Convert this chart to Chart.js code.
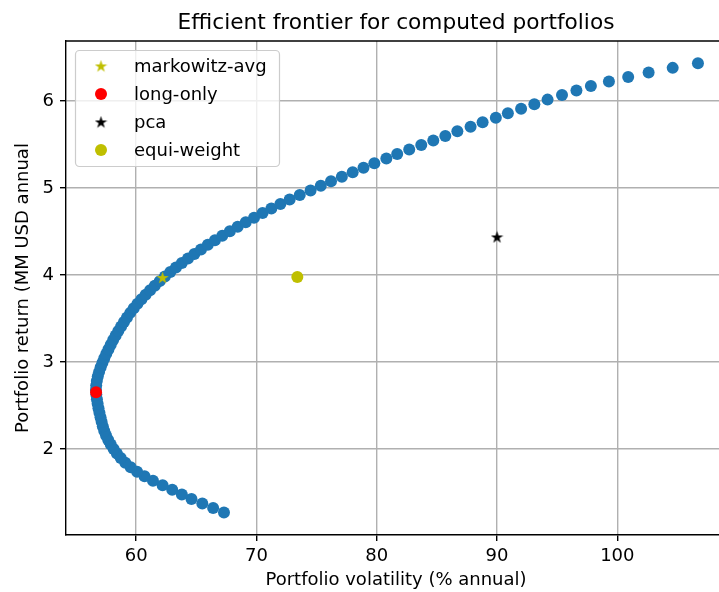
<!DOCTYPE html>
<html><head><meta charset="utf-8">
<script src="https://cdn.jsdelivr.net/npm/chart.js@4.4.0/dist/chart.umd.min.js"></script>
<style>html,body{margin:0;padding:0;background:#fff;}#wrap{width:719px;height:592px;}</style>
</head><body><div id="wrap"><canvas id="c" width="719" height="592"></canvas></div>
<script>
// ---- data ----
const chartTitle = "Efficient frontier for computed portfolios";
const xAxisLabel = "Portfolio volatility (% annual)";
const yAxisLabel = "Portfolio return (MM USD annual";
const xTicks = [60, 70, 80, 90, 100];
const yTicks = [2, 3, 4, 5, 6];

const frontierVol = [
  67.3, 66.4, 65.5, 64.6, 63.8, 63.0, 62.2, 61.4, 60.7, 60.08,
  59.55, 59.10, 58.72, 58.40, 58.13, 57.89, 57.68, 57.50, 57.35, 57.23,
  57.13, 57.04, 56.95, 56.87, 56.80, 56.74, 56.69, 56.66, 56.68, 56.73,
  56.81, 56.92, 57.05, 57.20, 57.35, 57.52, 57.70, 57.89, 58.09, 58.30,
  58.52, 58.75, 58.99, 59.24, 59.51, 59.80, 60.11, 60.44, 60.79, 61.16,
  61.55, 61.96, 62.39, 62.84, 63.31, 63.80, 64.31, 64.84, 65.39, 65.96,
  66.55, 67.16, 67.79, 68.44, 69.11, 69.80, 70.51, 71.24, 71.99, 72.76,
  73.6, 74.5, 75.35, 76.2, 77.1, 78.0, 78.9, 79.8, 80.8, 81.7,
  82.7, 83.7, 84.7, 85.7, 86.7, 87.8, 88.8, 89.9, 90.9, 92.0,
  93.1, 94.2, 95.4, 96.6, 97.8, 99.3, 100.9, 102.6, 104.6, 106.7
];
const frontierRet = [
  1.268, 1.320, 1.372, 1.425, 1.477, 1.529, 1.581, 1.633, 1.685, 1.738,
  1.790, 1.842, 1.894, 1.946, 1.998, 2.051, 2.103, 2.155, 2.207, 2.259,
  2.311, 2.364, 2.416, 2.468, 2.520, 2.572, 2.625, 2.677, 2.729, 2.781,
  2.833, 2.885, 2.938, 2.990, 3.042, 3.094, 3.146, 3.198, 3.251, 3.303,
  3.355, 3.407, 3.459, 3.511, 3.564, 3.616, 3.668, 3.720, 3.772, 3.825,
  3.877, 3.929, 3.981, 4.033, 4.085, 4.138, 4.190, 4.242, 4.294, 4.346,
  4.398, 4.451, 4.503, 4.555, 4.607, 4.659, 4.711, 4.764, 4.816, 4.868,
  4.920, 4.972, 5.025, 5.077, 5.129, 5.181, 5.233, 5.285, 5.338, 5.390,
  5.442, 5.494, 5.546, 5.598, 5.651, 5.703, 5.755, 5.807, 5.859, 5.912,
  5.964, 6.016, 6.068, 6.120, 6.172, 6.225, 6.277, 6.329, 6.381, 6.433
];

const portfolioNames = ["markowitz-avg", "long-only", "pca", "equi-weight"];
const portfolioVol = [62.2, 56.67, 90.0, 73.4];
const portfolioRet = [3.97, 2.652, 4.437, 3.977];

// ---- styling ----
const FONT = "'DejaVu Sans', sans-serif";
function starCanvas(color, size) {
  const c = document.createElement('canvas');
  c.width = c.height = size;
  const g = c.getContext('2d');
  const R = size / 2, r = R * 0.382;
  g.beginPath();
  for (let i = 0; i < 10; i++) {
    const a = -Math.PI / 2 + i * Math.PI / 5;
    const rad = i % 2 ? r : R;
    g.lineTo(R + rad * Math.cos(a), R + rad * Math.sin(a) + 0.6);
  }
  g.closePath();
  g.fillStyle = color;
  g.fill();
  return c;
}
const portfolioColors = ['#bfbf00', '#ff0000', '#000000', '#bfbf00'];
const portfolioStyles = [starCanvas('#bfbf00', 13), 'circle', starCanvas('#000000', 13), 'circle'];

const portfolioDatasets = portfolioNames.map((name, i) => ({
  label: name,
  data: [{x: portfolioVol[i], y: portfolioRet[i]}],
  pointStyle: portfolioStyles[i],
  pointRadius: 6,
  pointBackgroundColor: portfolioColors[i],
  pointBorderWidth: 0,
  order: 1
}));

const frontierDataset = {
  label: '',
  data: frontierVol.map((v, i) => ({x: v, y: frontierRet[i]})),
  pointStyle: 'circle',
  pointRadius: 6,
  pointBackgroundColor: '#1f77b4',
  pointBorderWidth: 0,
  order: 5
};

const frameAndText = {
  id: 'frameAndText',
  afterDatasetsDraw(chart) {
    const {ctx, chartArea: a} = chart;
    ctx.save();
    ctx.strokeStyle = '#000';
    ctx.lineWidth = 1.4;
    ctx.beginPath();
    ctx.moveTo(a.left, a.top);
    ctx.lineTo(a.right + 2, a.top);
    ctx.stroke();
    ctx.restore();
  },
  afterDraw(chart) {
    const {ctx} = chart;
    ctx.save();
    ctx.fillStyle = '#000';
    ctx.textAlign = 'center';
    ctx.textBaseline = 'alphabetic';
    ctx.font = `21.7px ${FONT}`;
    ctx.fillText(chartTitle, 396, 29);
    ctx.textBaseline = 'middle';
    ctx.font = `18px ${FONT}`;
    ctx.fillText(xAxisLabel, 396, 580);
    ctx.translate(23, 288);
    ctx.rotate(-Math.PI / 2);
    ctx.fillText(yAxisLabel, 0, 0);
    ctx.restore();

    // legend (matplotlib style, upper left)
    ctx.save();
    const bx = 75, by = 50, bw = 204, bh = 116, rr = 4;
    ctx.beginPath();
    ctx.roundRect(bx + 0.5, by + 0.5, bw, bh, rr);
    ctx.fillStyle = 'rgba(255,255,255,0.8)';
    ctx.fill();
    ctx.strokeStyle = '#cccccc';
    ctx.lineWidth = 1.2;
    ctx.stroke();
    const rows = [66, 94, 122, 150];
    ctx.font = `18px ${FONT}`;
    ctx.textAlign = 'left';
    ctx.textBaseline = 'middle';
    portfolioNames.forEach((name, i) => {
      const y = rows[i], mx = 101;
      const st = portfolioStyles[i];
      if (st === 'circle') {
        ctx.beginPath();
        ctx.arc(mx, y, 6, 0, Math.PI * 2);
        ctx.fillStyle = portfolioColors[i];
        ctx.fill();
      } else {
        ctx.drawImage(st, mx - st.width / 2, y - st.height / 2);
      }
      ctx.fillStyle = '#000';
      ctx.fillText(name, 134, y + 1);
    });
    ctx.restore();
  }
};

new Chart(document.getElementById('c'), {
  type: 'scatter',
  data: {datasets: [...portfolioDatasets, frontierDataset]},
  options: {
    responsive: false,
    animation: false,
    devicePixelRatio: 1,
    layout: {autoPadding: false, padding: {top: 41, left: 0, right: 0, bottom: 0}},
    plugins: {legend: {display: false}, tooltip: {enabled: false}, title: {display: false}},
    scales: {
      x: {
        type: 'linear', min: 54.17, max: 108.45,
        afterBuildTicks: s => { s.ticks = xTicks.map(v => ({value: v})); },
        afterFit: s => { s.height = 57; },
        grid: {color: '#b0b0b0', lineWidth: 1.4, tickColor: '#000', tickLength: 6},
        border: {color: '#000', width: 1.4},
        ticks: {color: '#000', font: {family: FONT, size: 18}, padding: 5, maxRotation: 0}
      },
      y: {
        type: 'linear', min: 1.01, max: 6.69,
        afterBuildTicks: s => { s.ticks = yTicks.map(v => ({value: v})); },
        afterFit: s => { s.width = 66; },
        grid: {color: '#b0b0b0', lineWidth: 1.4, tickColor: '#000', tickLength: 6},
        border: {color: '#000', width: 1.4},
        ticks: {color: '#000', font: {family: FONT, size: 18}, padding: 6}
      }
    }
  },
  plugins: [frameAndText]
});
</script>
</body></html>
